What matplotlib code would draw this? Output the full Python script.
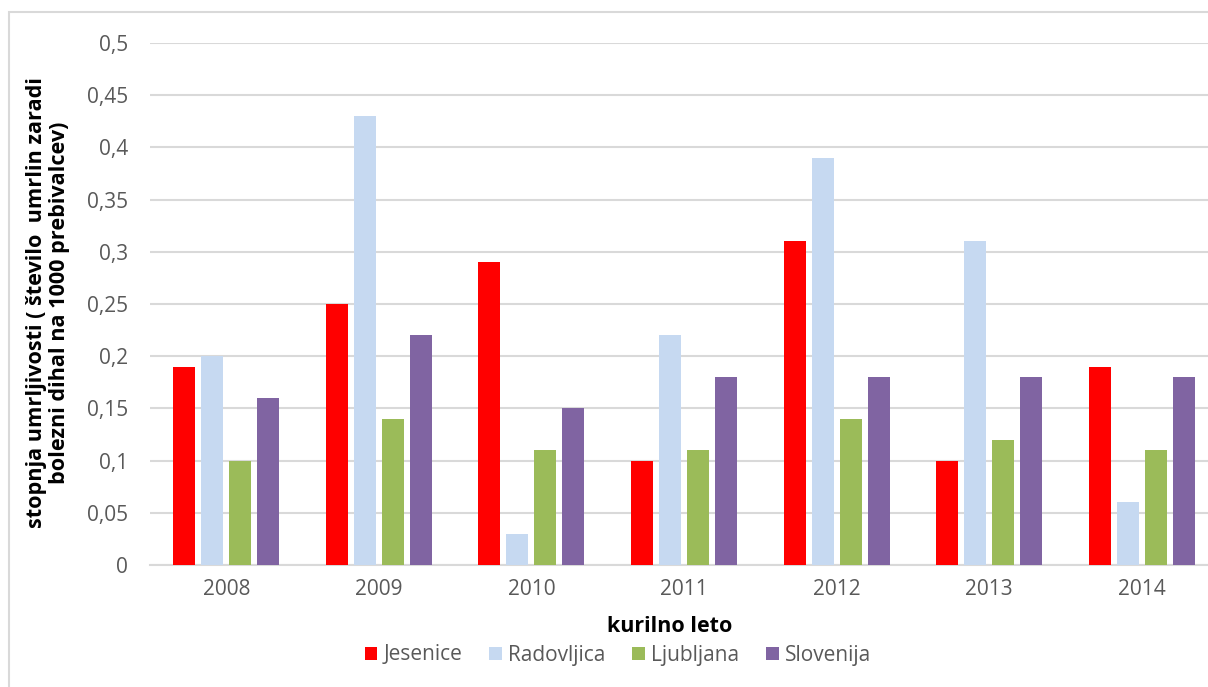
import matplotlib
matplotlib.use("Agg")
import matplotlib.pyplot as plt
from matplotlib.patches import Rectangle
import numpy as np

years = ["2008", "2009", "2010", "2011", "2012", "2013", "2014"]
jesenice = [0.19, 0.25, 0.29, 0.10, 0.31, 0.10, 0.19]
radovljica = [0.20, 0.43, 0.03, 0.22, 0.39, 0.31, 0.06]
ljubljana = [0.10, 0.14, 0.11, 0.11, 0.14, 0.12, 0.11]
slovenija = [0.16, 0.22, 0.15, 0.18, 0.18, 0.18, 0.18]
series_names = ["Jesenice", "Radovljica", "Ljubljana", "Slovenija"]
colors = ["#FF0000", "#C6D9F1", "#9BBB59", "#8064A2"]
yticks = [0, 0.05, 0.1, 0.15, 0.2, 0.25, 0.3, 0.35, 0.4, 0.45, 0.5]

plt.rcParams["font.family"] = ["Open Sans", "DejaVu Sans"]

W, H = 1208, 687
fig = plt.figure(figsize=(W / 100, H / 100), dpi=100)

# outer chart frame (runs off the right and bottom edges)
fig.patches.append(Rectangle((9 / W, -0.05), 1.2, 1 - 12 / H + 0.05,
                             transform=fig.transFigure, fill=False,
                             edgecolor="#D9D9D9", linewidth=1.5, zorder=0))

left, right = 150 / W, 1218 / W
bottom, top = 1 - 565 / H, 1 - 43 / H
ax = fig.add_axes([left, bottom, right - left, top - bottom])

x = np.arange(len(years))
bw = 22 / 152.5
step = 28 / 152.5
data = [jesenice, radovljica, ljubljana, slovenija]
for i, (vals, name, c) in enumerate(zip(data, series_names, colors)):
    ax.bar(x + (i - 1.5) * step, vals, width=bw, color=c, label=name, zorder=3)

ax.set_xlim(-0.5, len(years) - 0.5)
ax.set_ylim(0, 0.5)
ax.set_yticks(yticks)
ax.set_yticklabels([("%g" % v).replace(".", ",") for v in yticks])
ax.set_xticks(x)
ax.set_xticklabels(years)
ax.tick_params(axis="both", length=0, labelsize=15, colors="#595959")
ax.tick_params(axis="y", pad=16)
ax.tick_params(axis="x", pad=10)
ax.grid(axis="y", color="#D9D9D9", linewidth=1.5, zorder=0)
for s in ["top", "right", "left"]:
    ax.spines[s].set_visible(False)
ax.spines["bottom"].set_color("#D9D9D9")
ax.spines["bottom"].set_linewidth(1.5)

fig.text(48 / W, 1 - 303 / H,
         "stopnja umrljivosti ( število  umrlin zaradi\nbolezni dihal na 1000 prebivalcev)",
         rotation=90, ha="center", va="center", fontsize=15.6, fontweight="bold",
         color="black", linespacing=1.15)
fig.text(670 / W, 1 - 627 / H, "kurilno leto", ha="center", va="center",
         fontsize=15.5, fontweight="bold", color="black")

fig.legend(loc="center", bbox_to_anchor=(618 / W, 1 - 655 / H), ncol=4,
           frameon=False, fontsize=15, handlelength=0.6, handleheight=0.6,
           handletextpad=0.3, columnspacing=1.3, labelcolor="#595959",
           borderaxespad=0, borderpad=0)

fig.savefig("out.png", dpi=100)
